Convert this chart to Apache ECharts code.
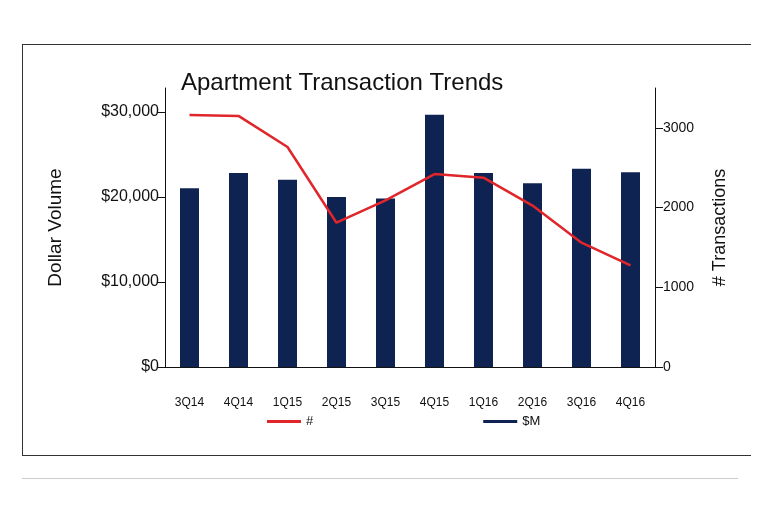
<!DOCTYPE html>
<html><head><meta charset="utf-8">
<script src="https://cdn.jsdelivr.net/npm/echarts@6/dist/echarts.min.js"></script>
<style>
html,body{margin:0;padding:0;background:#fff;}
#frame{position:absolute;left:22px;top:44px;width:728px;height:410px;border:1px solid #333;border-right:none;}
#rule{position:absolute;left:22px;top:478px;width:716px;height:1px;background:#ccc;}
#chart{position:absolute;left:0;top:0;width:768px;height:523px;}
</style></head>
<body>
<div id="frame"></div><div id="rule"></div>
<div id="chart"></div>
<script>
var quarters = ['3Q14','4Q14','1Q15','2Q15','3Q15','4Q15','1Q16','2Q16','3Q16','4Q16'];
var dollarVolume = [21000,22800,22000,20000,19800,29650,22800,21600,23300,22900];
var transactions = [3160,3150,2760,1810,2090,2420,2375,2025,1560,1275];
var leftTicks = [0,10000,20000,30000];

var chart = echarts.init(document.getElementById('chart'));
var font = 'Liberation Sans, Arial, sans-serif';
chart.setOption({
  animation: false,
  textStyle: { fontFamily: font },
  title: { text: 'Apartment Transaction Trends', left: 176, top: 66,
    textStyle: { fontSize: 24, fontWeight: 'normal', color: '#111', fontFamily: font } },
  legend: {
    top: 410, left: 262, itemGap: 170, itemWidth: 34, itemHeight: 3,
    textStyle: { fontSize: 13, color: '#111' },
    data: [{ name: '#', icon: 'rect' }, { name: '$M', icon: 'rect' }]
  },
  grid: { left: 165, right: 113, top: 88, bottom: 156 },
  xAxis: {
    type: 'category', data: quarters,
    axisLine: { lineStyle: { color: '#111' } },
    axisTick: { length: 6, lineStyle: { color: '#111' } },
    axisLabel: { color: '#111', fontSize: 12, margin: 30 }
  },
  yAxis: [{
    type: 'value', min: 0, max: 32800, interval: 10000,
    name: 'Dollar Volume', nameLocation: 'middle', nameGap: 100, nameRotate: 90,
    nameTextStyle: { fontSize: 19, color: '#111' },
    splitLine: { show: false },
    axisLine: { show: true, lineStyle: { color: '#111' } },
    axisTick: { show: true, length: 8, lineStyle: { color: '#111' } },
    axisLabel: { color: '#111', fontSize: 16, margin: 6, showMaxLabel: false,
      formatter: function (v) { return leftTicks.indexOf(v) < 0 ? '' : '$' + v.toLocaleString('en-US'); } }
  }, {
    type: 'value', min: 0, max: 3500, interval: 1000,
    name: '# Transactions', nameLocation: 'middle', nameGap: 56, nameRotate: 90,
    nameTextStyle: { fontSize: 18, color: '#111' },
    splitLine: { show: false },
    axisLine: { show: true, lineStyle: { color: '#111' } },
    axisTick: { show: true, length: 8, lineStyle: { color: '#111' } },
    axisLabel: { color: '#111', fontSize: 14, margin: 8, showMaxLabel: false,
      formatter: function (v) { return String(v); } }
  }],
  series: [{
    name: '$M', type: 'bar', data: dollarVolume, barWidth: 19,
    itemStyle: { color: '#0f2352' }
  }, {
    name: '#', type: 'line', yAxisIndex: 1, data: transactions,
    symbol: 'none', lineStyle: { color: '#e0262a', width: 2.5 }, itemStyle: { color: '#e0262a' }
  }]
});
</script>
</body></html>
